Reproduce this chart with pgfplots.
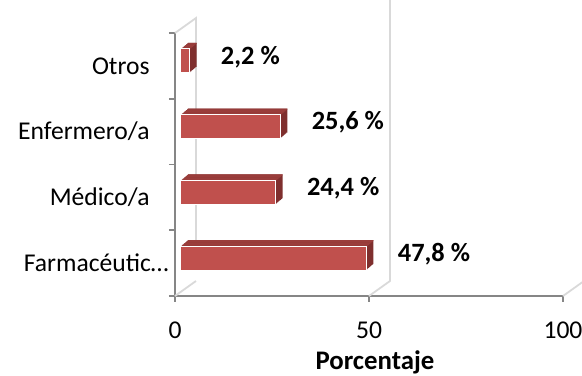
\documentclass[border=0pt]{standalone}
\usepackage{pgfplots}
\pgfplotsset{compat=1.18}
\usepackage{pgfplotstable}
\usepackage{fontspec}
\setmainfont{Carlito}
\definecolor{barfront}{HTML}{C0504D}
\definecolor{bartop}{HTML}{9A3D3B}
\definecolor{barside}{HTML}{7F2F2E}
\definecolor{axgray}{HTML}{868686}
\definecolor{gridgray}{HTML}{D9D9D9}

\pgfplotstableread{
y v lab
0 47.8 {47,8 \%}
1 24.4 {24,4 \%}
2 25.6 {25,6 \%}
3 2.2 {2,2 \%}
}\datatable

\newcommand\sidelayer[2]{\addplot[xbar, bar width=12bp, bar shift=#2, xshift=#1, fill=barside, draw=none, forget plot] table[x=v,y=y]{\datatable};}
\newcommand\toplayer[2]{\addplot[xbar, bar width=0.5bp, bar shift=#2, xshift=#1, fill=bartop, draw=none, forget plot] table[x=v,y=y]{\datatable};}

\begin{document}
\begin{tikzpicture}
\useasboundingbox (-87.5bp,-40bp) rectangle (203.5bp,148bp);
\begin{axis}[
  scale only axis, width=194bp, height=131.5bp,
  xmin=0, xmax=100, ymin=-0.5, ymax=3.5,
  clip=false,
  axis x line*=bottom, axis y line*=left,
  axis line style={axgray, line width=0.9bp},
  tick style={axgray, line width=0.9bp},
  tick align=outside,
  major tick length=3bp,
  xtick={0,50,100}, xticklabels={0,50,100},
  ytick={-0.5,0.5,1.5,2.5,3.5}, yticklabels={},
  extra y ticks={0,1,2,3},
  extra y tick labels={Farmacéutic…\hspace*{-9.5bp}, Médico/a, Enfermero/a, Otros},
  extra y tick style={major tick length=0pt, yticklabel style={anchor=east, xshift=-9.2bp}},
  tick label style={font=\fontsize{12.8bp}{15bp}\selectfont, text=black},
  xticklabel style={anchor=base, yshift=-18bp},
  xlabel={\textbf{Porcentaje}},
  xlabel style={font=\fontsize{13.4bp}{15bp}\selectfont, at={(axis description cs:0.5155,0)}, anchor=center, yshift=-33bp},
]
\draw[gridgray, line width=0.9bp] (axis cs:0,3.5) -- ++(10.5bp,7.5bp) -- ++(0,-131.5bp);
\draw[gridgray, line width=0.9bp] (axis cs:0,-0.5) -- ++(10.5bp,7.5bp);
\draw[gridgray, line width=0.9bp] (axis cs:50,-0.5) -- ++(10.5bp,7.5bp) -- ++(0,131.5bp);
\draw[gridgray, line width=0.9bp] (axis cs:100,-0.5) -- ++(10.5bp,7.5bp) -- ++(0,131.5bp);

\sidelayer{6.5bp}{5.5bp}
\sidelayer{6.06bp}{5.125bp}
\sidelayer{5.625bp}{4.75bp}
\sidelayer{5.19bp}{4.375bp}
\sidelayer{4.75bp}{4.0bp}
\sidelayer{4.31bp}{3.625bp}
\sidelayer{3.875bp}{3.25bp}
\sidelayer{3.44bp}{2.875bp}

\toplayer{6.5bp}{11.25bp}
\toplayer{6.06bp}{10.875bp}
\toplayer{5.625bp}{10.5bp}
\toplayer{5.19bp}{10.125bp}
\toplayer{4.75bp}{9.75bp}
\toplayer{4.31bp}{9.375bp}
\toplayer{3.875bp}{9.0bp}
\toplayer{3.44bp}{8.625bp}

\addplot[xbar, bar width=12bp, bar shift=2.5bp, xshift=3bp, fill=barfront, draw=white, line width=0.5bp, forget plot] table[x=v,y=y]{\datatable};

\addplot[draw=none, mark=none, nodes near coords, point meta=explicit symbolic,
  nodes near coords style={anchor=west, xshift=15.2bp, yshift=4.5bp, font=\fontsize{13.2bp}{15bp}\selectfont\bfseries, text=black}]
  table[x=v, y=y, meta=lab]{\datatable};
\end{axis}
\end{tikzpicture}
\end{document}
